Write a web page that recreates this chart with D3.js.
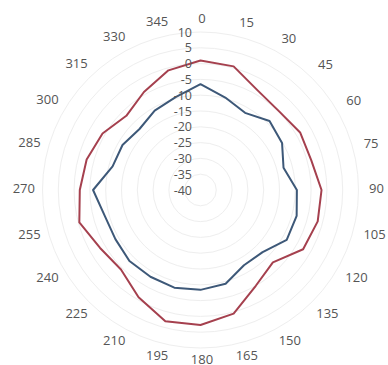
<!DOCTYPE html>
<html>
<head>
<meta charset="utf-8">
<script src="https://cdn.jsdelivr.net/npm/d3@7/dist/d3.min.js"></script>
<style>
  html, body { margin: 0; padding: 0; background: #fff; }
  svg { display: block; }
  text { font-family: "Open Sans", sans-serif; fill: #555; }
</style>
</head>
<body>
<svg id="chart" width="388" height="365"></svg>
<script>
// Angular positions (degrees, clockwise from north)
const angles = [0, 15, 30, 45, 60, 75, 90, 105, 120, 135, 150, 165,
                180, 195, 210, 225, 240, 255, 270, 285, 300, 315, 330, 345];

// Series values (dB) at each angle
const outerSeries = [1, 0.5, -3.7, -4.8, -3.6, -3.7, -1.7, -1.6, -2.5, -7.6, -5.0, 0.5,
                     2.7, 3.0, -0.8, -4.4, -3.3, -0.3, -1.8, -2.7, -4.2, -6.8, -4.2, -0.8];
const innerSeries = [-6.5, -9.7, -11.8, -9.1, -10.2, -12.8, -9.5, -8.5, -8.5, -12.2, -12.5, -9.3,
                     -8.4, -8.0, -8.3, -8.2, -8.9, -8.6, -6.0, -11.2, -11.5, -12.7, -11.0, -9.6];

// Radial axis ticks
const radialTicks = [10, 5, 0, -5, -10, -15, -20, -25, -30, -35, -40];
const radialDomain = [-40, 10];

const cx = 200.5, cy = 190, radius = 158, labelGap = 167;

const svg = d3.select("#chart");
const g = svg.append("g").attr("transform", `translate(${cx},${cy})`);

const r = d3.scaleLinear().domain(radialDomain).range([0, radius]);
const toRad = d => d * Math.PI / 180;

// Grid circles
g.append("g")
  .selectAll("circle")
  .data(radialTicks.filter(t => t > radialDomain[0]))
  .join("circle")
  .attr("r", d => r(d))
  .attr("fill", "none")
  .attr("stroke", "#eeeeee")
  .attr("stroke-width", 1);

// Series lines
const line = d3.lineRadial()
  .angle(d => toRad(d[0]))
  .radius(d => r(d[1]))
  .curve(d3.curveLinearClosed);

const series = [
  { values: outerSeries, color: "#a5404e" },
  { values: innerSeries, color: "#3d5878" }
];

g.append("g")
  .selectAll("path")
  .data(series)
  .join("path")
  .attr("d", s => line(angles.map((a, i) => [a, s.values[i]])))
  .attr("fill", "none")
  .attr("stroke", s => s.color)
  .attr("stroke-width", 2)
  .attr("stroke-linejoin", "round");

// Radial tick labels along the vertical axis
g.append("g")
  .selectAll("text")
  .data(radialTicks)
  .join("text")
  .attr("x", -8.5)
  .attr("y", d => -r(d))
  .attr("text-anchor", "end")
  .attr("dominant-baseline", "central")
  .style("font-size", "12.5px")
  .text(d => d);

// Angular tick labels placed just outside the plot
const angLabels = g.append("g")
  .attr("transform", "translate(1.5,-2)")
  .selectAll("text")
  .data(angles)
  .join("text")
  .attr("text-anchor", "middle")
  .attr("dominant-baseline", "central")
  .style("font-size", "13px")
  .text(d => d);

angLabels.each(function(d) {
  const w = this.getComputedTextLength();
  const h = 7;
  const s = Math.sin(toRad(d)), c = Math.cos(toRad(d));
  const dist = labelGap + Math.abs(s) * w / 2 + Math.abs(c) * h / 2;
  d3.select(this).attr("x", dist * s).attr("y", -dist * c);
});
</script>
</body>
</html>
